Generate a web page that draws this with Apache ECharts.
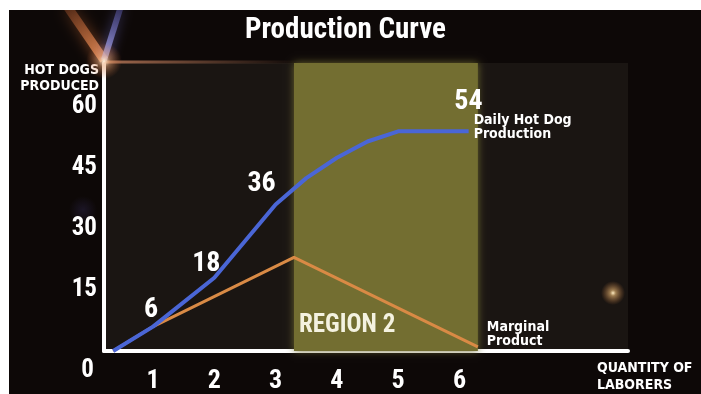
<!DOCTYPE html>
<html>
<head>
<meta charset="utf-8">
<script src="https://cdn.jsdelivr.net/npm/echarts@6/dist/echarts.min.js"></script>
<style>
  html, body { margin: 0; padding: 0; background: #ffffff; }
  #chart { position: absolute; left: 9px; top: 10px; width: 692px; height: 384px; background: #0d0807; }
</style>
</head>
<body>
<div id="chart"></div>
<script>
// Laborers on the x axis, hot dogs on the y axis
const xTicks = [1, 2, 3, 4, 5, 6];
const yTicks = [0, 15, 30, 45, 60];

// Total daily production (x = laborers, y = hot dogs)
const totalProduct = [[0.35, 0], [1, 6], [2, 18], [3, 36], [3.5, 42.5], [4, 47.5], [4.5, 51.5], [5, 54], [6, 54], [6.15, 54]];
// Values written next to the total-product curve
const totalLabels = { 1: '6', 2: '18', 3: '36', 6: '54' };

// Marginal product of each extra laborer
const marginalProduct = [[0.35, 0], [1, 6], [3.3, 23], [6.3, 1]];

// Diminishing returns band
const region2 = [3.3, 6.3];

const FONT = "'Roboto Condensed', 'Roboto', sans-serif";
const SMALL = "'DejaVu Sans Condensed', 'DejaVu Sans', sans-serif";

const labelOffsets = { 1: [-2, 3], 2: [-8, 6], 3: [-14, -1], 6: [9, -10] };

const chart = echarts.init(document.getElementById('chart'), null, { renderer: 'canvas' });

chart.setOption({
  backgroundColor: '#0d0807',
  animation: false,
  title: {
    text: 'Production Curve',
    left: 231,
    top: 1,
    textStyle: { color: '#ffffff', fontFamily: FONT, fontWeight: 'bold', fontSize: 29 }
  },
  graphic: [
    // blue haze left of the axis
    {
      type: 'ellipse', z: 0, silent: true,
      shape: { cx: 74, cy: 200, rx: 14, ry: 160 },
      style: {
        fill: new echarts.graphic.RadialGradient(0.5, 0.5, 0.5, [
          { offset: 0, color: 'rgba(80,70,150,0.22)' },
          { offset: 1, color: 'rgba(80,70,150,0)' }
        ])
      }
    },
    // flare at the top of the y axis
    {
      type: 'line', z: 1, silent: true,
      shape: { x1: 95, y1: 50, x2: 58, y2: -4 },
      style: {
        stroke: new echarts.graphic.LinearGradient(1, 1, 0, 0, [
          { offset: 0, color: 'rgba(250,160,100,0.9)' },
          { offset: 1, color: 'rgba(210,100,50,0.2)' }
        ]),
        lineWidth: 9, shadowBlur: 14, shadowColor: 'rgba(235,125,60,0.8)'
      }
    },
    {
      type: 'line', z: 1, silent: true,
      shape: { x1: 95, y1: 50, x2: 112, y2: -4 },
      style: {
        stroke: new echarts.graphic.LinearGradient(0, 1, 1, 0, [
          { offset: 0, color: 'rgba(190,190,255,0.85)' },
          { offset: 1, color: 'rgba(110,110,230,0.25)' }
        ]),
        lineWidth: 6, shadowBlur: 12, shadowColor: 'rgba(130,130,240,0.8)'
      }
    },
    {
      type: 'line', z: 1, silent: true,
      shape: { x1: 95, y1: 52, x2: 290, y2: 52 },
      style: {
        stroke: new echarts.graphic.LinearGradient(0, 0, 1, 0, [
          { offset: 0, color: 'rgba(230,150,110,0.7)' },
          { offset: 1, color: 'rgba(230,150,110,0)' }
        ]),
        lineWidth: 3
      }
    },
    {
      type: 'circle', z: 2, silent: true,
      shape: { cx: 95, cy: 51, r: 18 },
      style: {
        fill: new echarts.graphic.RadialGradient(0.5, 0.5, 0.5, [
          { offset: 0, color: 'rgba(255,240,220,1)' },
          { offset: 0.35, color: 'rgba(235,165,110,0.45)' },
          { offset: 1, color: 'rgba(200,100,50,0)' }
        ])
      }
    },
    // small light at the right
    {
      type: 'circle', z: 1, silent: true,
      shape: { cx: 604, cy: 283, r: 12 },
      style: {
        fill: new echarts.graphic.RadialGradient(0.5, 0.5, 0.5, [
          { offset: 0, color: 'rgba(255,240,200,1)' },
          { offset: 0.25, color: 'rgba(240,190,120,0.6)' },
          { offset: 1, color: 'rgba(200,120,60,0)' }
        ])
      }
    }
  ],
  grid: {
    left: 95, right: 73, top: 53, bottom: 42,
    show: true, backgroundColor: '#1a1512', borderWidth: 0
  },
  xAxis: {
    type: 'value',
    min: 0.2, max: 8.75,
    name: 'QUANTITY OF\nLABORERS',
    nameLocation: 'end',
    nameGap: -31,
    nameTextStyle: {
      color: '#ffffff', fontFamily: SMALL, fontWeight: 'bold', fontSize: 14,
      lineHeight: 17, align: 'left', verticalAlign: 'top', padding: [9, 0, 0, 0]
    },
    axisLine: { show: true, lineStyle: { color: '#ffffff', width: 4 } },
    axisTick: { show: false },
    splitLine: { show: false },
    axisLabel: {
      customValues: xTicks,
      color: '#ffffff', fontFamily: FONT, fontWeight: 'bold', fontSize: 26, margin: 17
    }
  },
  yAxis: {
    type: 'value',
    min: 0, max: 70.8,
    name: 'HOT DOGS\nPRODUCED',
    nameLocation: 'end',
    nameGap: -23,
    nameTextStyle: {
      color: '#ffffff', fontFamily: SMALL, fontWeight: 'bold', fontSize: 14,
      lineHeight: 16, align: 'right', verticalAlign: 'top', padding: [0, 5, 0, 0]
    },
    axisLine: { show: true, lineStyle: { color: '#ffffff', width: 4 } },
    axisTick: { show: false },
    splitLine: { show: false },
    axisLabel: {
      customValues: yTicks,
      color: '#ffffff', fontFamily: FONT, fontWeight: 'bold', fontSize: 25, margin: 7,
      formatter: v => (v === 0 ? '{z|0}' : String(v)),
      rich: { z: { fontFamily: FONT, fontWeight: 'bold', fontSize: 25, color: '#ffffff', padding: [40, 3, 0, 0] } }
    }
  },
  series: [
    {
      name: 'Marginal Product',
      type: 'line',
      data: marginalProduct,
      symbol: 'none',
      z: 3,
      lineStyle: { color: '#d98a45', width: 3 },
      endLabel: {
        show: true,
        formatter: 'Marginal\nProduct',
        color: '#ffffff', fontFamily: SMALL, fontWeight: 'bold', fontSize: 14, lineHeight: 14,
        distance: 9, offset: [0, -13]
      },
      markArea: {
        silent: true,
        itemStyle: { color: '#736e31', shadowBlur: 8, shadowColor: 'rgba(115,110,49,0.9)' },
        label: {
          show: true,
          position: 'insideBottomLeft',
          formatter: 'REGION 2',
          color: '#f4f2e0', fontFamily: FONT, fontWeight: 'bold', fontSize: 25,
          offset: [0, -8]
        },
        data: [[{ xAxis: region2[0] }, { xAxis: region2[1] }]]
      }
    },
    {
      name: 'Daily Hot Dog Production',
      type: 'line',
      data: totalProduct.map(p => {
        const lbl = totalLabels[p[0]];
        return lbl ? {
          value: p,
          label: {
            show: true, formatter: lbl, position: 'top',
            offset: labelOffsets[p[0]],
            color: '#ffffff', fontFamily: FONT, fontWeight: 'bold', fontSize: 28
          }
        } : { value: p };
      }),
      symbol: 'circle',
      symbolSize: 1,
      showSymbol: true,
      itemStyle: { color: 'rgba(0,0,0,0)' },
      z: 4,
      lineStyle: { color: '#4a66d6', width: 4 },
      endLabel: {
        show: true,
        formatter: 'Daily Hot Dog\nProduction',
        color: '#ffffff', fontFamily: SMALL, fontWeight: 'bold', fontSize: 14, lineHeight: 14,
        distance: 5, offset: [0, -4]
      }
    }
  ]
});
</script>
</body>
</html>
